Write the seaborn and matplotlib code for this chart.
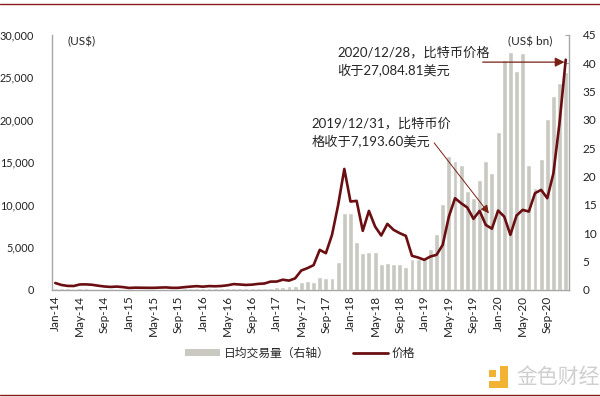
import numpy as np
import pandas as pd
import matplotlib
matplotlib.use('Agg')
import matplotlib.pyplot as plt
import seaborn as sns
from matplotlib.patches import Patch, Rectangle
from matplotlib.lines import Line2D

# monthly, Jan-14 .. Dec-20
months = pd.date_range('2014-01-01', periods=84, freq='MS').strftime('%b-%y').tolist()

# month-end price (US$, left axis)
price = [800, 570, 460, 450, 630, 640, 590, 480, 390, 340, 380, 320,
         220, 255, 245, 235, 230, 263, 285, 230, 236, 314, 378, 430,
         370, 437, 416, 448, 531, 673, 624, 573, 608, 698, 742, 963,
         970, 1190, 1080, 1350, 2270, 2550, 2900, 4700, 4310, 6470, 10000, 14230,
         10390, 10470, 6940, 9290, 7450, 6390, 7760, 7060, 6670, 6350, 4000, 3800,
         3530, 3920, 4120, 5290, 8620, 10780, 10190, 9680, 8350, 9290, 7640, 7194,
         9330, 8620, 6470, 8740, 9410, 9210, 11370, 11760, 10780, 13720, 19700, 27085]

# daily average volume (US$ bn, right axis)
volume = [0.3, 0.25, 0.25, 0.2, 0.25, 0.25, 0.2, 0.2, 0.2, 0.2, 0.2, 0.2,
          0.2, 0.2, 0.2, 0.15, 0.15, 0.2, 0.2, 0.2, 0.2, 0.25, 0.3, 0.3,
          0.3, 0.3, 0.25, 0.25, 0.3, 0.35, 0.3, 0.3, 0.3, 0.3, 0.35, 0.4,
          0.45, 0.5, 0.6, 0.6, 1.3, 1.6, 1.3, 2.3, 2.1, 2.1, 4.9, 13.5,
          13.6, 8.4, 6.5, 6.7, 6.6, 4.5, 4.8, 4.6, 4.6, 4.0, 5.5, 5.4,
          5.4, 7.2, 9.8, 15.2, 23.6, 22.8, 22.1, 17.5, 16.2, 19.4, 22.8, 20.7,
          27.8, 40.5, 41.9, 38.7, 41.8, 22.0, 18.0, 23.1, 30.1, 34.2, 36.6, 38.5]

sns.set_style('white')
plt.rcParams['font.family'] = ['Lato', 'Noto Sans CJK SC', 'DejaVu Sans']

bar_color = '#c9c9c1'
line_color = '#6a0e12'
axis_gray = '#a6a6a6'

fig = plt.figure(figsize=(6, 3.97), dpi=100)
ax = fig.add_axes([0.087, 0.27, 0.861, 0.642])
ax2 = ax.twinx()

idx = np.arange(len(months))
sns.barplot(x=idx, y=volume, ax=ax2, color=bar_color, width=0.8, saturation=1)
sns.lineplot(x=idx, y=price, ax=ax, color=line_color, linewidth=1.9)
ax.set_zorder(ax2.get_zorder() + 1)
ax.patch.set_visible(False)

ax.set_xlim(-0.5, 83.5)
ax.set_ylim(0, 30000)
ax2.set_ylim(0, 45)
ax.set_xlabel('')
ax.set_ylabel('')
ax2.set_ylabel('')

for s in ['top', 'right']:
    ax.spines[s].set_visible(False)
for s in ['top', 'left', 'bottom']:
    ax2.spines[s].set_visible(False)
for sp in [ax.spines['left'], ax.spines['bottom'], ax2.spines['right']]:
    sp.set_color(axis_gray)
    sp.set_linewidth(1)

ax.set_yticks(range(0, 30001, 5000))
ax.set_yticklabels([f'{v:,}' for v in range(0, 30001, 5000)])
ax.tick_params(axis='y', length=0, pad=13, labelsize=7.8, labelcolor='#222222')
ax2.set_yticks(range(0, 46, 5))
ax2.tick_params(axis='y', direction='in', length=3, color=axis_gray, pad=10,
                labelsize=8.5, labelcolor='#222222')

ax.set_xticks(idx[::4])
ax.set_xticklabels(months[::4], rotation=90, fontsize=8.5, color='#222222')
ax.set_xticks(idx[::4] - 0.5, minor=True)
ax.tick_params(axis='x', which='major', length=0, pad=4)
ax.tick_params(axis='x', which='minor', length=4, color=axis_gray, direction='out')

ax.text(0.03, 0.975, '(US$)', transform=ax.transAxes, fontsize=8.5, va='center')
ax2.text(0.925, 0.975, '(US$ bn)', transform=ax2.transAxes, fontsize=8.5,
         va='center', ha='center')

# annotations
arrow_color = '#7a1f14'
ax.text(45.8, 26900, '2020/12/28，比特币价格\n收于27,084.81美元', fontsize=9.5,
        va='center', ha='left', linespacing=1.5)
ax.annotate('', xy=(82.8, 26800), xytext=(69.5, 26800),
            arrowprops=dict(arrowstyle='-|>', color=arrow_color, lw=0.9,
                            mutation_scale=14, shrinkA=0, shrinkB=0))
ax.text(41.7, 18500, '2019/12/31，比特币价\n格收于7,193.60美元', fontsize=9.5,
        va='center', ha='left', linespacing=1.5)
ax.annotate('', xy=(70.5, 9000), xytext=(61.6, 17300),
            arrowprops=dict(arrowstyle='-|>', color=arrow_color, lw=0.7,
                            mutation_scale=12, shrinkA=0, shrinkB=0))

# legend
handles = [Patch(facecolor=bar_color, edgecolor='none'),
           Line2D([0], [0], color=line_color, linewidth=2)]
fig.legend(handles, ['日均交易量（右轴）', '价格'], loc='center',
           bbox_to_anchor=(0.5, 0.111), ncol=2, frameon=False, fontsize=8.5,
           handlelength=3, handleheight=0.6, columnspacing=2, handletextpad=0.3)

# frame lines top / bottom
fig.add_artist(Line2D([0, 1], [0.991, 0.991], color='#8b1a1a', linewidth=1))
fig.add_artist(Line2D([0, 1], [0.006, 0.006], color='#8b1a1a', linewidth=1))

# watermark
W, H = 600, 397
def box(x, y, w, h, c):
    fig.add_artist(Rectangle((x / W, 1 - (y + h) / H), w / W, h / H,
                             facecolor=c, edgecolor='none', transform=fig.transFigure))
box(489, 370, 7, 7, '#f2b233')
box(500, 366, 8, 22, '#f2b233')
box(489, 381, 19, 7, '#f2b233')
fig.text(516 / W, 1 - 377 / H, '金色财经', fontsize=15, color='#cfcfcf',
         va='center', ha='left')

fig.savefig('out.png', dpi=100)
